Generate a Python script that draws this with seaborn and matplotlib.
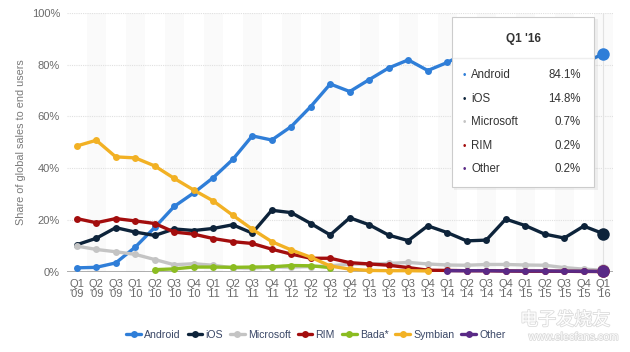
import numpy as np
import pandas as pd
import matplotlib
matplotlib.use('Agg')
import matplotlib.pyplot as plt
import matplotlib.patheffects as pe
from matplotlib.lines import Line2D
from matplotlib.patches import Rectangle
import seaborn as sns

# data (share of smartphone sales, %)
quarters = ["Q1\n'09", "Q2\n'09", "Q3\n'09", "Q1\n'10", "Q2\n'10", "Q3\n'10", "Q4\n'10",
            "Q1\n'11", "Q2\n'11", "Q3\n'11", "Q4\n'11", "Q1\n'12", "Q2\n'12", "Q3\n'12",
            "Q4\n'12", "Q1\n'13", "Q2\n'13", "Q3\n'13", "Q4\n'13", "Q1\n'14", "Q2\n'14",
            "Q3\n'14", "Q4\n'14", "Q1\n'15", "Q2\n'15", "Q3\n'15", "Q4\n'15", "Q1\n'16"]
android = [1.6, 1.8, 3.5, 9.6, 17.2, 25.3, 30.5, 36.4, 43.4, 52.5, 50.9, 56.1, 63.8, 72.5,
           69.6, 74.2, 78.7, 81.8, 77.7, 80.8, 84.7, 83.1, 76.0, 78.9, 82.2, 84.7, 80.7, 84.1]
ios = [10.5, 13.0, 17.1, 15.4, 14.1, 16.6, 16.0, 16.8, 18.2, 15.0, 23.8, 22.9, 18.7, 14.3,
       20.9, 18.2, 14.2, 12.1, 17.8, 15.2, 12.0, 12.3, 20.4, 17.9, 14.6, 13.1, 17.7, 14.8]
microsoft = [10.0, 8.7, 7.8, 6.8, 4.8, 2.8, 3.2, 2.6, 1.6, 1.5, 1.9, 1.9, 2.1, 2.4,
             3.0, 3.1, 3.3, 3.7, 3.1, 2.7, 2.6, 2.9, 2.9, 2.7, 2.6, 1.7, 1.1, 0.7]
rim = [20.6, 19.0, 20.6, 19.7, 18.7, 15.4, 14.6, 12.9, 11.7, 11.0, 8.8, 6.9, 5.3, 5.3,
       3.6, 3.1, 2.6, 1.7, 0.7, 0.6, 0.5, 0.5, 0.4, 0.3, 0.3, 0.3, 0.2, 0.2]
bada = [None, None, None, None, 0.9, 1.2, 1.9, 1.9, 1.8, 1.9, 2.0, 2.5, 2.4, 1.7,
        None, None, None, None, None, None, None, None, None, None, None, None, None, None]
symbian = [48.6, 50.8, 44.4, 44.0, 40.9, 36.1, 31.6, 27.4, 21.9, 16.5, 11.7, 8.5, 5.7, 2.3,
           1.1, 0.6, 0.5, 0.5, 0.4, None, None, None, None, None, None, None, None, None]
other = [None] * 19 + [0.5, 0.5, 0.5, 0.4, 0.4, 0.4, 0.3, 0.3, 0.2]

series = {'Android': android, 'iOS': ios, 'Microsoft': microsoft, 'RIM': rim,
          'Bada*': bada, 'Symbian': symbian, 'Other': other}
colors = {'Android': '#2f7ed8', 'iOS': '#0d233a', 'Microsoft': '#c4c4c4', 'RIM': '#a30d0d',
          'Bada*': '#8bbc21', 'Symbian': '#f2b124', 'Other': '#5a2a86'}

rows = []
for name, vals in series.items():
    for i, v in enumerate(vals):
        if v is not None:
            rows.append({'q': i, 'share': v, 'os': name})
df = pd.DataFrame(rows)

sns.set_style('white')
plt.rcParams['font.family'] = ['Liberation Sans', 'DejaVu Sans']

W, H = 630, 352
def fx(x): return x / W
def fy(y): return 1 - y / H

fig = plt.figure(figsize=(6.3, 3.52), dpi=100)
ax = fig.add_axes([fx(67), fy(272), fx(613) - fx(67), fy(12.7) - fy(272)])

# alternating column bands
for i in range(1, len(quarters), 2):
    ax.axvspan(i - 0.5, i + 0.5, color='#fafafa', zorder=0, lw=0)

sns.lineplot(data=df, x='q', y='share', hue='os', hue_order=list(series.keys()),
             palette=colors, marker='o', markersize=5, markeredgewidth=0,
             linewidth=2.4, legend=False, ax=ax, clip_on=False, zorder=3)

# highlighted points on the hovered quarter
last = len(quarters) - 1
ax.axvline(last, color='#e2e2e2', lw=0.8, zorder=1)
for name in ['Android', 'iOS', 'Microsoft', 'RIM', 'Other']:
    ax.plot(last, series[name][-1], 'o', ms=9, color=colors[name], mec='none',
            clip_on=False, zorder=5)

ax.set_xlim(-0.5, len(quarters) - 0.5)
ax.set_ylim(0, 100)
ax.set_xticks(range(len(quarters)))
ax.set_xticklabels(quarters, linespacing=1.0)
ax.set_yticks([0, 20, 40, 60, 80, 100])
ax.set_yticklabels([f'{t}%' for t in [0, 20, 40, 60, 80, 100]])
ax.tick_params(axis='both', length=0, labelsize=8, colors='#6a6a6a')
ax.tick_params(axis='x', pad=5)
ax.tick_params(axis='y', pad=5)
ax.yaxis.grid(True, color='#e0e0e0', linestyle=(0, (1, 1)), lw=0.8)
ax.set_axisbelow(True)
for s in ax.spines.values():
    s.set_visible(False)
ax.axhline(0, color='#a0a0a0', lw=1.2, zorder=2)
ax.set_xlabel('')
ax.set_ylabel('Share of global sales to end users', fontsize=7.8, color='#7a7a7a', labelpad=4)

# tooltip
fig.patches.append(Rectangle((fx(454), fy(190)), fx(144), fy(19) - fy(190),
                             transform=fig.transFigure, facecolor='#000000', alpha=0.05,
                             edgecolor='none', zorder=8))
fig.patches.append(Rectangle((fx(452), fy(187)), fx(142), fy(17) - fy(187),
                             transform=fig.transFigure, facecolor='white',
                             edgecolor='#cccccc', lw=0.8, zorder=9))
fig.add_artist(Line2D([fx(453), fx(593)], [fy(58), fy(58)], transform=fig.transFigure,
                      color='#eeeeee', lw=1, zorder=10))
fig.text(fx(523), fy(39), quarters[-1].replace('\n', ' '), ha='center', va='center',
         fontsize=8.5, fontweight='bold', color='#333333', zorder=11)
tip_rows = ['Android', 'iOS', 'Microsoft', 'RIM', 'Other']
tip_y = [75, 99, 122, 146, 169]
for name, y in zip(tip_rows, tip_y):
    fig.text(fx(464), fy(y), '•', ha='center', va='center', fontsize=7,
             color=colors[name], zorder=11)
    fig.text(fx(471), fy(y), name, ha='left', va='center', fontsize=8.3,
             color='#333333', zorder=11)
    fig.text(fx(581), fy(y), f'{series[name][-1]:.1f}%', ha='right', va='center',
             fontsize=8.3, color='#333333', zorder=11)

# legend
handles = [Line2D([0], [0], color=colors[n], lw=2.4, marker='o', ms=5, mec='none')
           for n in series]
fig.legend(handles, list(series.keys()), loc='center', bbox_to_anchor=(fx(316), fy(335)),
           ncol=7, frameon=False, fontsize=7.6, labelcolor='#3a4766',
           handlelength=1.4, handletextpad=0.3, columnspacing=0.65)

# watermark
stroke = [pe.withStroke(linewidth=1.2, foreground='#dcdcdc')]
fig.text(fx(565), fy(320), '电子发烧友', ha='center', va='center', fontsize=13,
         color='white', family=['Noto Sans CJK SC', 'DejaVu Sans'],
         path_effects=stroke, zorder=12)
fig.text(fx(574), fy(337), 'www.elecfans.com', ha='center', va='center', fontsize=7.8,
         color='white', path_effects=stroke, zorder=12)

plt.savefig('out.png', dpi=100)
